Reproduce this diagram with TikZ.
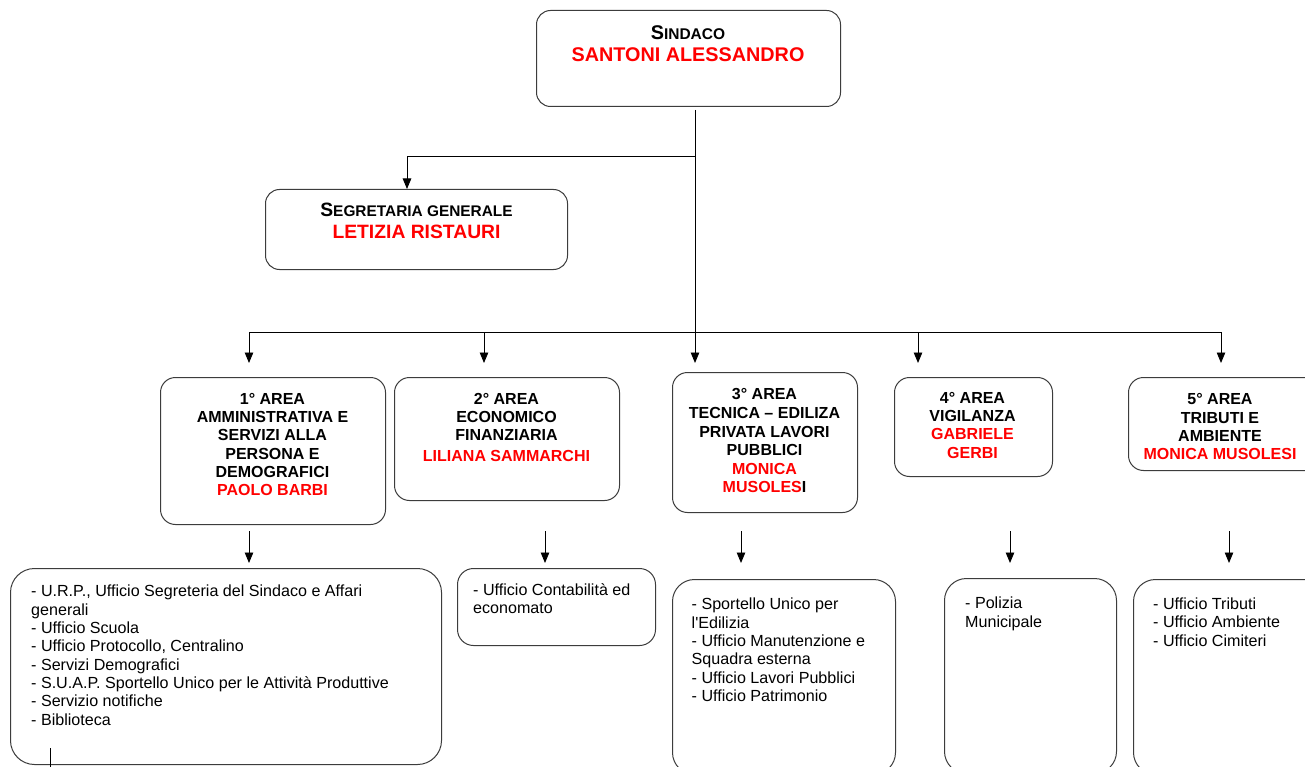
\documentclass[tikz,border=0pt]{standalone}
\usepackage{fontspec}
\setmainfont{Liberation Sans}
\usetikzlibrary{arrows.meta}
\definecolor{nameRed}{RGB}{255,0,0}
\definecolor{edgeGray}{RGB}{60,60,60}
\newcommand\mysc[2]{{\fontsize{#1}{22}\selectfont #2}}
\begin{document}
\begin{tikzpicture}[x=1pt,y=-1pt,
  box/.style={draw=edgeGray, line width=1pt, rounded corners=#1, anchor=north west, inner sep=0pt, fill=white},
  box/.default=15pt,
  hdr/.style={font=\bfseries\fontsize{16}{18.3}\selectfont, align=center, inner sep=0pt, anchor=north},
  lst/.style={font=\fontsize{16.1}{18.33}\selectfont, align=left, inner sep=0pt, anchor=north west},
  conn/.style={draw=black, line width=0.9pt},
  arr/.style={conn, -{Triangle[length=10.5pt,width=8.5pt]}}]
\useasboundingbox (0,0) rectangle (1305,767);
\clip (0,0) rectangle (1305,767);
\fill[white] (0,0) rectangle (1305,767);

% top boxes
\node[box=14pt, minimum width=304pt, minimum height=96pt] (sind) at (536,10) {};
\node[inner sep=0pt, anchor=north, align=center, font=\bfseries\fontsize{19.8}{22.5}\selectfont] (sindT) at (688,25)
  {S\mysc{15.5}{INDACO}\\\textcolor{nameRed}{SANTONI ALESSANDRO}};
\node[box=14pt, minimum width=302pt, minimum height=80pt] (seg) at (265,189) {};
\node[inner sep=0pt, anchor=north, align=center, font=\bfseries\fontsize{19.3}{22}\selectfont] (segT) at (416.5,203)
  {S\mysc{15.4}{EGRETARIA GENERALE}\\\textcolor{nameRed}{LETIZIA RISTAURI}};

% area boxes
\node[box, minimum width=225pt, minimum height=147pt] (a1) at (160,377) {};
\node[hdr] (a1T) at (272.5,393) {1° AREA\\AMMINISTRATIVA E\\SERVIZI ALLA\\PERSONA E\\DEMOGRAFICI\\\textcolor{nameRed}{PAOLO BARBI}};
\node[box, minimum width=225pt, minimum height=123pt] (a2) at (394,377) {};
\node[hdr] (a2T) at (506.5,393) {2° AREA\\ECONOMICO\\FINANZIARIA\\[2.5pt]\textcolor{nameRed}{LILIANA SAMMARCHI}};
\node[box, minimum width=185pt, minimum height=140pt] (a3) at (672,372) {};
\node[hdr, font=\bfseries\fontsize{16}{18.6}\selectfont] (a3T) at (764.5,388.5) {3° AREA\\TECNICA – EDILIZA\\PRIVATA LAVORI\\PUBBLICI\\\textcolor{nameRed}{MONICA}\\\textcolor{nameRed}{MUSOLES}I};
\node[box, minimum width=158pt, minimum height=99pt] (a4) at (894,377) {};
\node[hdr] (a4T) at (972.5,392) {4° AREA\\VIGILANZA\\\textcolor{nameRed}{GABRIELE}\\\textcolor{nameRed}{GERBI}};
\node[box, minimum width=200pt, minimum height=93pt] (a5) at (1128,377) {};
\node[hdr] (a5T) at (1220,393.5) {5° AREA\\TRIBUTI E\\AMBIENTE\\\textcolor{nameRed}{MONICA MUSOLESI}};

% bottom boxes
\node[box=24pt, minimum width=431pt, minimum height=196pt] (b1) at (10,568) {};
\node[lst] (b1T) at (31,585) {- U.R.P., Ufficio Segreteria del Sindaco e Affari\\generali\\- Ufficio Scuola\\- Ufficio Protocollo, Centralino\\- Servizi Demografici\\- S.U.A.P. Sportello Unico per le Attività Produttive\\- Servizio notifiche\\- Biblioteca};
\node[box=16pt, minimum width=198pt, minimum height=77pt] (b2) at (457,568) {};
\node[lst] (b2T) at (473,583) {- Ufficio Contabilità ed\\economato};
\node[box=22pt, minimum width=223pt, minimum height=195pt] (b3) at (672,579) {};
\node[lst] (b3T) at (691.5,598) {- Sportello Unico per\\l\textquotesingle Edilizia\\- Ufficio Manutenzione e\\Squadra esterna\\- Ufficio Lavori Pubblici\\- Ufficio Patrimonio};
\node[box=22pt, minimum width=172pt, minimum height=195pt] (b4) at (944,578) {};
\node[lst] (b4T) at (965,597) {- Polizia\\Municipale};
\node[box=22pt, minimum width=200pt, minimum height=195pt] (b5) at (1133,579) {};
\node[lst] (b5T) at (1153,597.5) {- Ufficio Tributi\\- Ufficio Ambiente\\- Ufficio Cimiteri};

% connectors
\coordinate (c0) at (695,110);
\coordinate (c1) at (695,156);
\coordinate (c2) at (407,156);
\coordinate (bus) at (695,332);
\coordinate (busL) at (249,332);
\coordinate (busR) at (1221,332);
\draw[conn] (c0) -- (bus);
\draw[arr] (c1) -- (c2) -- (c2 |- seg.north);
\draw[conn] (busL) -- (busR);
\coordinate (t1) at (249,363);
\coordinate (t2) at (484,363);
\coordinate (t3) at (695,363);
\coordinate (t4) at (918,363);
\coordinate (t5) at (1221,363);
\coordinate (u2) at (484,332);
\coordinate (u4) at (918,332);
\draw[arr] (busL) -- (t1);
\draw[arr] (u2) -- (t2);
\draw[arr] (bus) -- (t3);
\draw[arr] (u4) -- (t4);
\draw[arr] (busR) -- (t5);
\foreach \x/\n in {249/1,545/2,741/3,1010/4,1229/5}{
  \coordinate (d\n) at (\x,531);
  \coordinate (e\n) at (\x,563);
  \draw[arr] (d\n) -- (e\n);
}
\coordinate (f0) at (50,748);
\coordinate (f1) at (50,775);
\draw[conn] (f0) -- (f1);
\end{tikzpicture}
\end{document}
